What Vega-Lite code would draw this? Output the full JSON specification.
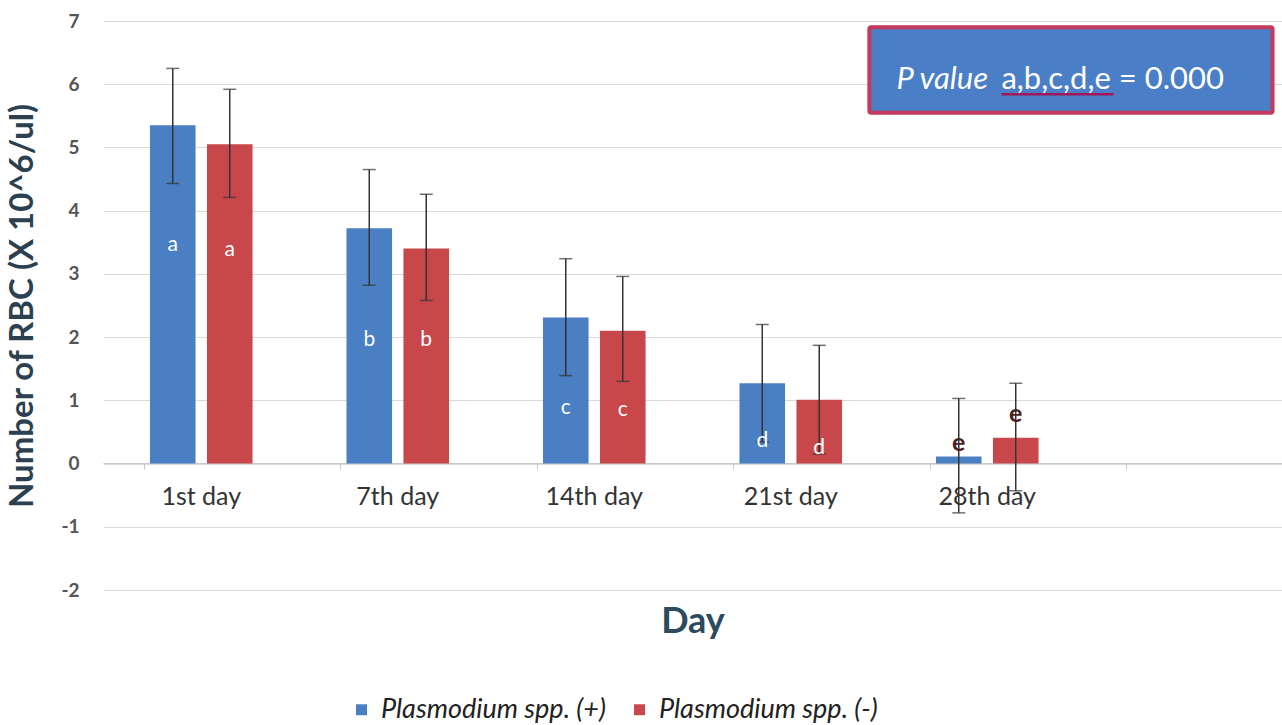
{
  "$schema": "https://vega.github.io/schema/vega-lite/v6.json",
  "width": 1179,
  "height": 569,
  "autosize": {"type": "none"},
  "padding": {"left": 103, "top": 21, "right": 0, "bottom": 135},
  "background": "white",
  "config": {
    "font": "Lato",
    "view": {"stroke": null}
  },
  "datasets": {
    "bars": [
      {"day": "1st day", "group": "Plasmodium spp. (+)", "value": 5.35, "lo": 4.43, "hi": 6.25, "label": "a", "labY": 3.45},
      {"day": "1st day", "group": "Plasmodium spp. (-)", "value": 5.05, "lo": 4.21, "hi": 5.92, "label": "a", "labY": 3.37},
      {"day": "7th day", "group": "Plasmodium spp. (+)", "value": 3.72, "lo": 2.82, "hi": 4.65, "label": "b", "labY": 1.95},
      {"day": "7th day", "group": "Plasmodium spp. (-)", "value": 3.40, "lo": 2.58, "hi": 4.26, "label": "b", "labY": 1.95},
      {"day": "14th day", "group": "Plasmodium spp. (+)", "value": 2.31, "lo": 1.39, "hi": 3.24, "label": "c", "labY": 0.88},
      {"day": "14th day", "group": "Plasmodium spp. (-)", "value": 2.10, "lo": 1.30, "hi": 2.96, "label": "c", "labY": 0.84},
      {"day": "21st day", "group": "Plasmodium spp. (+)", "value": 1.27, "lo": 0.34, "hi": 2.20, "label": "d", "labY": 0.36},
      {"day": "21st day", "group": "Plasmodium spp. (-)", "value": 1.01, "lo": 0.15, "hi": 1.87, "label": "d", "labY": 0.25},
      {"day": "28th day", "group": "Plasmodium spp. (+)", "value": 0.11, "lo": -0.78, "hi": 1.03, "label": "e", "labY": 0.33},
      {"day": "28th day", "group": "Plasmodium spp. (-)", "value": 0.41, "lo": -0.43, "hi": 1.27, "label": "e", "labY": 0.79}
    ],
    "note": [
      {"x1": 0.65, "x2": 0.992, "y1": 5.55, "y2": 6.9, "tx1": 0.673, "tx2": 0.762, "ux2": 0.857, "ty": 6.06, "uy": 5.84, "t1": "P value", "t2": "a,b,c,d,e = 0.000"}
    ]
  },
  "layer": [
    {
      "data": {"name": "bars"},
      "encoding": {
        "x": {
          "field": "day", "type": "nominal",
          "scale": {"domain": ["1st day", "7th day", "14th day", "21st day", "28th day", " "], "paddingInner": 0.42, "paddingOuter": 0.21},
          "sort": null,
          "axis": {
            "title": "Day", "titleFontSize": 36, "titleFontWeight": "bold", "titleColor": "#2b4a5e", "titlePadding": 95,
            "labelAngle": 0, "labelFontSize": 25, "labelColor": "#333333", "labelPadding": 15,
            "offset": -127, "domainColor": "#c8c8c8", "tickColor": "#c8c8c8", "tickSize": 6, "bandPosition": 0,
            "ticks": true, "grid": false
          }
        },
        "xOffset": {"field": "group", "type": "nominal", "scale": {"paddingInner": 0.2, "paddingOuter": 0.1}}
      },
      "layer": [
        {
          "mark": {"type": "bar"},
          "encoding": {
            "y": {
              "field": "value", "type": "quantitative",
              "scale": {"domain": [-2, 7], "nice": false},
              "axis": {
                "title": "Number of RBC (X 10^6/ul)", "titleFontSize": 33, "titleFontWeight": "bold", "titleColor": "#2b4050", "titlePadding": 21,
                "values": [-2, -1, 0, 1, 2, 3, 4, 5, 6, 7], "labelExpr": "'' + datum.value", "labelFontSize": 19, "labelFontWeight": "bold", "labelColor": "#555555", "labelPadding": 24,
                "ticks": false, "domain": false, "grid": true, "gridColor": "#d9d9d9", "gridWidth": 1.2
              }
            },
            "y2": {"datum": 0},
            "color": {
              "field": "group", "type": "nominal",
              "scale": {"range": ["#4a7fc3", "#c8474a"]},
              "legend": {
                "title": null, "orient": "none", "direction": "horizontal", "legendX": 245, "legendY": 675,
                "symbolType": "square", "symbolSize": 120, "labelFontSize": 27, "labelFontStyle": "italic", "labelColor": "#222222",
                "labelLimit": 0, "columnPadding": 20, "labelOffset": 6
              }
            }
          }
        },
        {
          "mark": {"type": "rule", "color": "#333333", "strokeWidth": 1.5},
          "encoding": {
            "y": {"field": "lo", "type": "quantitative"},
            "y2": {"field": "hi"}
          }
        },
        {
          "mark": {"type": "tick", "color": "#333333", "thickness": 1.5, "size": 13},
          "encoding": {"y": {"field": "hi", "type": "quantitative"}}
        },
        {
          "mark": {"type": "tick", "color": "#333333", "thickness": 1.5, "size": 13},
          "encoding": {"y": {"field": "lo", "type": "quantitative"}}
        },
        {
          "transform": [{"filter": "datum.label !== 'e'"}],
          "mark": {"type": "text", "fontSize": 21, "baseline": "middle", "color": "white"},
          "encoding": {
            "y": {"field": "labY", "type": "quantitative"},
            "text": {"field": "label"}
          }
        },
        {
          "transform": [{"filter": "datum.label === 'e'"}],
          "mark": {"type": "text", "fontSize": 25, "fontWeight": "bold", "baseline": "middle", "color": "#4a1f22"},
          "encoding": {
            "y": {"field": "labY", "type": "quantitative"},
            "text": {"field": "label"}
          }
        }
      ]
    },
    {
      "data": {"name": "note"},
      "layer": [
        {
          "mark": {"type": "rect", "fill": "#4a7ec6", "stroke": "#c33a5c", "strokeWidth": 4, "cornerRadius": 2},
          "encoding": {
            "x": {"field": "x1", "type": "quantitative", "scale": {"domain": [0, 1]}, "axis": null},
            "x2": {"field": "x2"},
            "y": {"field": "y1", "type": "quantitative"},
            "y2": {"field": "y2"}
          }
        },
        {
          "mark": {"type": "rule", "color": "#a0185a", "strokeWidth": 2.5},
          "encoding": {
            "x": {"field": "tx2", "type": "quantitative", "scale": {"domain": [0, 1]}, "axis": null},
            "x2": {"field": "ux2"},
            "y": {"field": "uy", "type": "quantitative"}
          }
        },
        {
          "mark": {"type": "text", "align": "left", "baseline": "middle", "fontSize": 31, "fontStyle": "italic", "color": "white"},
          "encoding": {
            "x": {"field": "tx1", "type": "quantitative", "scale": {"domain": [0, 1]}, "axis": null},
            "y": {"field": "ty", "type": "quantitative"},
            "text": {"field": "t1"}
          }
        },
        {
          "mark": {"type": "text", "align": "left", "baseline": "middle", "fontSize": 31, "color": "white"},
          "encoding": {
            "x": {"field": "tx2", "type": "quantitative", "scale": {"domain": [0, 1]}, "axis": null},
            "y": {"field": "ty", "type": "quantitative"},
            "text": {"field": "t2"}
          }
        }
      ]
    }
  ],
  "resolve": {"scale": {"x": "independent"}, "axis": {"x": "independent"}}
}
